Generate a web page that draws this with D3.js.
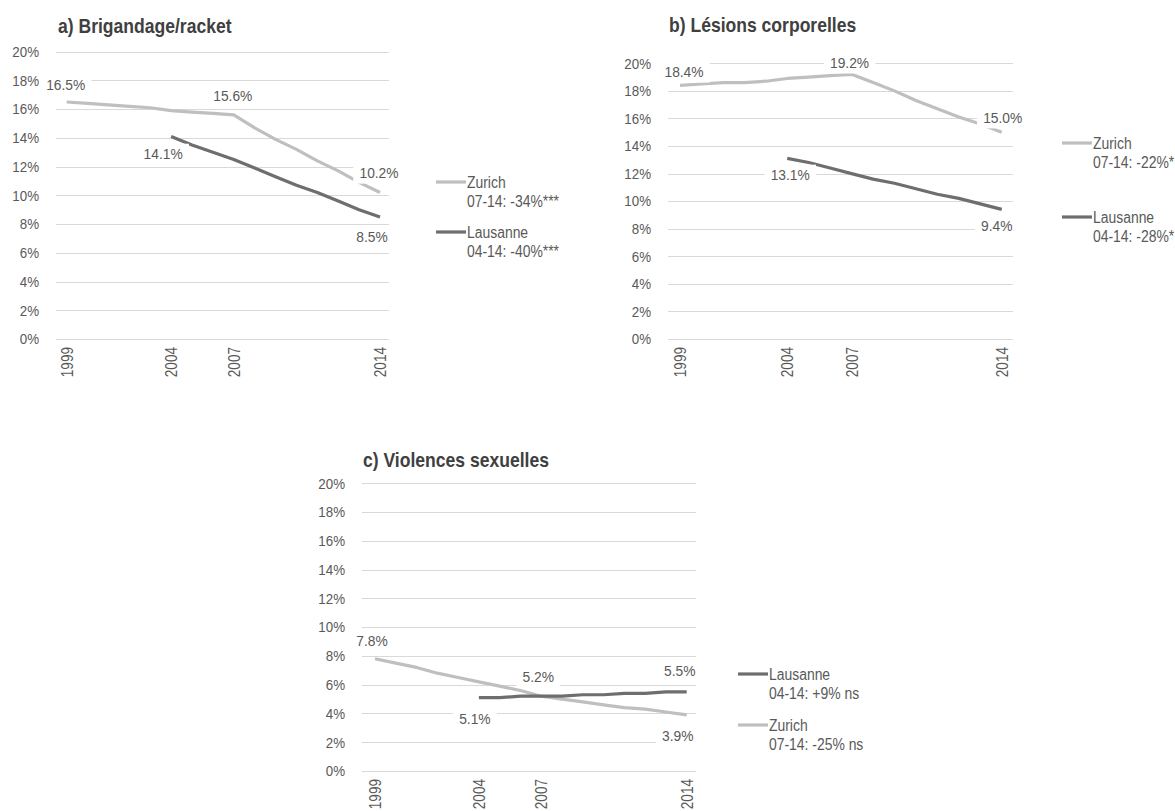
<!DOCTYPE html>
<html>
<head>
<meta charset="utf-8">
<script src="https://cdn.jsdelivr.net/npm/d3@7"></script>
<style>
  body { margin: 0; background: #fff; }
  svg { font-family: "Liberation Sans", Arial, sans-serif; }
</style>
</head>
<body>
<svg id="chart" width="1175" height="811"></svg>
<script>
// years of the x axis, only some of them get a label
var years = [1999, 2000, 2001, 2002, 2003, 2004, 2005, 2006, 2007, 2008, 2009, 2010, 2011, 2012, 2013, 2014];
var tickYears = [1999, 2004, 2007, 2014];
var yTicks = [0, 2, 4, 6, 8, 10, 12, 14, 16, 18, 20];

// a) Brigandage/racket (%)
var zurichA   = [16.5, 16.4, 16.3, 16.2, 16.1, 15.9, 15.8, 15.7, 15.6, 14.7, 13.9, 13.2, 12.4, 11.7, 10.9, 10.2];
var lausanneA = [null, null, null, null, null, 14.1, 13.5, 13.0, 12.5, 11.9, 11.3, 10.7, 10.2, 9.6, 9.0, 8.5];
// b) Lésions corporelles (%)
var zurichB   = [18.4, 18.5, 18.6, 18.6, 18.7, 18.9, 19.0, 19.1, 19.2, 18.6, 18.0, 17.3, 16.7, 16.1, 15.6, 15.0];
var lausanneB = [null, null, null, null, null, 13.1, 12.8, 12.4, 12.0, 11.6, 11.3, 10.9, 10.5, 10.2, 9.8, 9.4];
// c) Violences sexuelles (%)
var zurichC   = [7.8, 7.5, 7.2, 6.8, 6.5, 6.2, 5.9, 5.6, 5.2, 5.0, 4.8, 4.6, 4.4, 4.3, 4.1, 3.9];
var lausanneC = [null, null, null, null, null, 5.1, 5.1, 5.2, 5.2, 5.2, 5.3, 5.3, 5.4, 5.4, 5.5, 5.5];

var titles = ["a) Brigandage/racket", "b) Lésions corporelles", "c) Violences sexuelles"];
var legendA = [["Zurich", "07-14: -34%***"], ["Lausanne", "04-14: -40%***"]];
var legendB = [["Zurich", "07-14: -22%*"], ["Lausanne", "04-14: -28%*"]];
var legendC = [["Lausanne", "04-14: +9% ns"], ["Zurich", "07-14: -25% ns"]];

var colZurich = "#bfbfbf", colLausanne = "#6e6e6e", textCol = "#595959";

var panels = [
  { title: titles[0], x0: 66.7, x1: 380, y0: 339, y1: 51.7, g0: 56, g1: 389, tx: 58, ty: 33,
    series: [{ name: "Zurich", values: zurichA, color: colZurich }, { name: "Lausanne", values: lausanneA, color: colLausanne }],
    legend: legendA, lx: 436, ly: [182, 232],
    labels: [{ s: 0, year: 1999, dx: -1, dy: -12 }, { s: 0, year: 2007, dx: -1, dy: -14 }, { s: 0, year: 2014, dx: -1, dy: -14 },
             { s: 1, year: 2004, dx: -8, dy: 23 }, { s: 1, year: 2014, dx: -8, dy: 25 }] },
  { title: titles[1], x0: 680, x1: 1001.7, y0: 339, y1: 63.3, g0: 668, g1: 1013, tx: 669, ty: 32,
    series: [{ name: "Zurich", values: zurichB, color: colZurich }, { name: "Lausanne", values: lausanneB, color: colLausanne }],
    legend: legendB, lx: 1062, ly: [143, 217],
    labels: [{ s: 0, year: 1999, dx: 4, dy: -8 }, { s: 0, year: 2007, dx: -2, dy: -6 }, { s: 0, year: 2014, dx: 1, dy: -9 },
             { s: 1, year: 2004, dx: 3, dy: 22 }, { s: 1, year: 2014, dx: -5, dy: 22 }] },
  { title: titles[2], x0: 375, x1: 686.7, y0: 771, y1: 483.3, g0: 362, g1: 696, tx: 363, ty: 467,
    series: [{ name: "Zurich", values: zurichC, color: colZurich }, { name: "Lausanne", values: lausanneC, color: colLausanne }],
    legend: legendC, lx: 738, ly: [674, 725],
    labels: [{ s: 0, year: 1999, dx: -3, dy: -13 }, { s: 0, year: 2007, dx: -3, dy: -14 }, { s: 0, year: 2014, dx: -9, dy: 26 },
             { s: 1, year: 2004, dx: -4, dy: 26 }, { s: 1, year: 2014, dx: -7, dy: -16 }] }
];

var svg = d3.select("#chart");

panels.forEach(function(p) {
  var x = d3.scaleLinear().domain([1999, 2014]).range([p.x0, p.x1]);
  var y = d3.scaleLinear().domain([0, 20]).range([p.y0, p.y1]);
  var g = svg.append("g");

  // title, slightly condensed like the original
  g.append("text").text(p.title)
    .attr("transform", "translate(" + p.tx + "," + p.ty + ") scale(0.9,1)")
    .style("font-size", "19.5px").style("font-weight", "bold").style("fill", "#404040");

  // gridlines
  g.append("g").selectAll("line").data(yTicks).enter().append("line")
    .attr("x1", p.g0).attr("x2", p.g1)
    .attr("y1", function(d) { return Math.round(y(d)) + 0.5; })
    .attr("y2", function(d) { return Math.round(y(d)) + 0.5; })
    .style("stroke", "#d9d9d9").style("stroke-width", 1);

  // y axis labels
  var ya = g.append("g").attr("transform", "translate(" + p.g0 + ",0)")
    .call(d3.axisLeft(y).tickValues(yTicks).tickSize(0).tickFormat(function(d) { return d + "%"; }));
  ya.select(".domain").remove();
  ya.selectAll("text")
    .attr("x", 0).attr("transform", "translate(-17,0) scale(0.89,1)")
    .style("font-size", "15px").style("fill", textCol).style("font-family", null);

  // x axis labels, rotated
  var xa = g.append("g").attr("transform", "translate(0," + p.y0 + ")")
    .call(d3.axisBottom(x).tickValues(tickYears).tickSize(0).tickFormat(d3.format("d")));
  xa.select(".domain").remove();
  xa.selectAll("text")
    .attr("x", 0).attr("y", 0).attr("dy", "0.35em")
    .attr("transform", "rotate(-90) translate(-8,0) scale(0.85,1)")
    .style("text-anchor", "end").style("font-size", "16px").style("fill", textCol).style("font-family", null);

  // lines
  var line = d3.line()
    .defined(function(d) { return d[1] != null; })
    .x(function(d) { return x(d[0]); })
    .y(function(d) { return y(d[1]); });
  g.append("g").selectAll("path").data(p.series).enter().append("path")
    .attr("d", function(s) { return line(years.map(function(yr, i) { return [yr, s.values[i]]; })); })
    .style("fill", "none")
    .style("stroke", function(s) { return s.color; })
    .style("stroke-width", 3.2)
    .style("stroke-linejoin", "round");

  // data labels with white boxes
  p.labels.forEach(function(l) {
    var v = p.series[l.s].values[years.indexOf(l.year)];
    var lg = g.append("g")
      .attr("transform", "translate(" + (x(l.year) + l.dx) + "," + (y(v) + l.dy) + ") scale(0.89,1)");
    var box = lg.append("rect").style("fill", "#fff");
    var t = lg.append("text").text(v.toFixed(1) + "%")
      .style("text-anchor", "middle").style("font-size", "15.5px").style("fill", textCol);
    var bb = t.node().getBBox();
    box.attr("x", bb.x - 7).attr("y", bb.y - 2).attr("width", bb.width + 14).attr("height", bb.height + 4);
  });

  // legend
  p.legend.forEach(function(item, i) {
    var s = p.series.filter(function(d) { return d.name === item[0]; })[0];
    g.append("line")
      .attr("x1", p.lx).attr("x2", p.lx + 30)
      .attr("y1", p.ly[i]).attr("y2", p.ly[i])
      .style("stroke", s.color).style("stroke-width", 3.2);
    var t = g.append("text")
      .attr("transform", "translate(" + (p.lx + 31) + "," + (p.ly[i] + 6) + ") scale(0.87,1)")
      .style("font-size", "16px").style("fill", textCol);
    t.append("tspan").attr("x", 0).text(item[0]);
    t.append("tspan").attr("x", 0).attr("dy", 19.5).text(item[1]);
  });
});
</script>
</body>
</html>
